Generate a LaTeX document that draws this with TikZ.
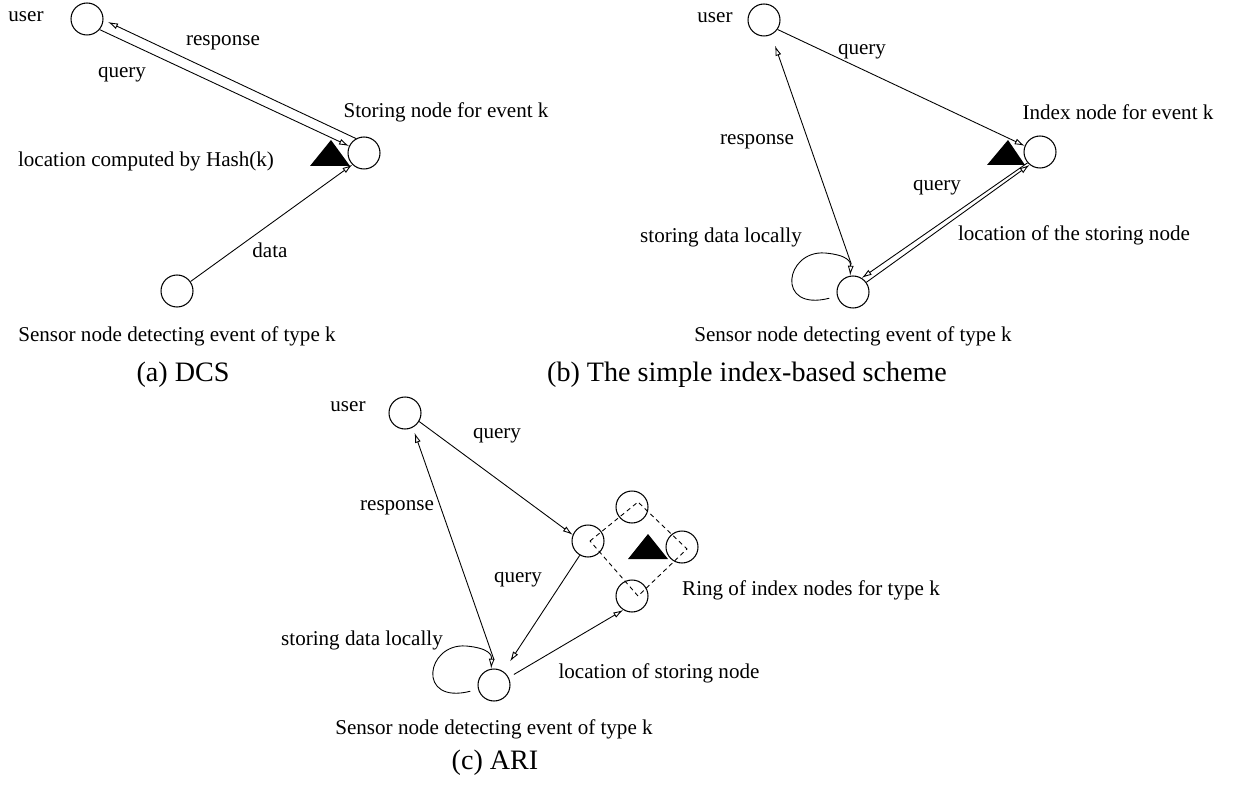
\documentclass[tikz,border=0pt]{standalone}
\usepackage{fontspec}
\setmainfont{Liberation Serif}
\usetikzlibrary{arrows.meta}

\begin{document}
\begin{tikzpicture}[
  x=0.02cm, y=-0.02cm,
  font=\fontsize{12}{14}\selectfont,
  nd/.style={circle, draw, line width=0.6pt, minimum size=0.64cm, inner sep=0pt},
  arr/.style={-{Latex[open,length=2mm,width=1.2mm]}, line width=0.5pt},
  lbl/.style={inner sep=0pt},
  capt/.style={inner sep=0pt, font=\fontsize{16}{19}\selectfont},
  ringline/.style={dash pattern=on 2.5pt off 2pt, line width=0.5pt}
]
  \useasboundingbox (0,0) rectangle (1233,790);

  % (a) DCS
  \node[nd] (userA) at (87,19) {};
  \node[nd] (storeA) at (364,153) {};
  \node[nd] (sensorA) at (177,291) {};
  \fill (310,166) -- (331,140) -- (350,166) -- cycle;
  \draw[arr] (userA.-40) -- (storeA.155);
  \draw[arr, shorten >=1mm] (storeA.119) -- (userA.-3);
  \draw[arr] (sensorA.35) -- (storeA.225);
  \node[lbl] (userAl) at (26,17) {user};
  \node[lbl] (respA) at (223,43) {response};
  \node[lbl] (queryA) at (122,75) {query};
  \node[lbl] (storeAl) at (446,112) {Storing node for event k};
  \node[lbl] (hashA) at (146,161) {location computed by Hash(k)};
  \node[lbl] (dataA) at (270,250) {data};
  \node[lbl] (sensorAl) at (177,336) {Sensor node detecting event of type k};
  \node[capt] (capA) at (183,375) {(a) DCS};

  % (b) simple index-based scheme
  \node[nd] (userB) at (764,20) {};
  \node[nd] (indexB) at (1040,152) {};
  \node[nd] (sensorB) at (853,292) {};
  \fill (987,165) -- (1008,140) -- (1025,165) -- cycle;
  \draw[arr] (userB.-35) -- (indexB.158);
  \draw[arr, shorten <=2.4mm, shorten >=2.3mm] (sensorB.82) -- (userB.-64);
  \draw[arr] (indexB.221) -- (sensorB.58);
  \draw[arr] (sensorB.36) -- (indexB.231);
  \draw[arr, shorten <=1.6mm] (sensorB.195) .. controls (775,312) and (785,250) .. (825,253)
    .. controls (848,255) and (851,262) .. (sensorB.100);
  \node[lbl] (userBl) at (715,18) {user};
  \node[lbl] (queryB1) at (862,52) {query};
  \node[lbl] (indexBl) at (1118,112) {Index node for event k};
  \node[lbl] (respB) at (757,142) {response};
  \node[lbl] (queryB2) at (937,188) {query};
  \node[lbl] (locB) at (1074,235) {location of the storing node};
  \node[lbl] (localB) at (721,237) {storing data locally};
  \node[lbl] (sensorBl) at (853,336) {Sensor node detecting event of type k};
  \node[capt] (capB) at (747,375) {(b) The simple index-based scheme};

  % (c) ARI
  \node[nd] (userC) at (405,413) {};
  \node[nd] (ringL) at (588,541) {};
  \node[nd] (ringT) at (632,507) {};
  \node[nd] (ringR) at (682,547) {};
  \node[nd] (ringB) at (632,596) {};
  \node[nd] (sensorC) at (494,685) {};
  \draw[ringline] ([shift={(2,0)}]ringL.center) -- ([shift={(6,-5)}]ringT.center)
    -- ([shift={(5,2)}]ringR.center) -- ([shift={(6,0)}]ringB.center) -- cycle;
  \fill (628,559) -- (648,534) -- (668,559) -- cycle;
  \draw[arr] (userC.-31) -- (ringL.158);
  \draw[arr, shorten <=2mm, shorten >=1.1mm] (sensorC.79) -- (userC.-62);
  \draw[arr, shorten >=2.4mm] (ringL.240) -- (sensorC.55);
  \draw[arr, shorten <=1.2mm] (sensorC.27) -- (ringB.238);
  \draw[arr, shorten <=1.6mm] (sensorC.195) .. controls (416,705) and (426,643) .. (466,646)
    .. controls (489,648) and (492,655) .. (sensorC.100);
  \node[lbl] (userCl) at (348,407) {user};
  \node[lbl] (queryC1) at (497,436) {query};
  \node[lbl] (respC) at (397,508) {response};
  \node[lbl] (queryC2) at (518,580) {query};
  \node[lbl] (localC) at (362,640) {storing data locally};
  \node[lbl] (locC) at (659,673) {location of storing node};
  \node[lbl] (ringCl) at (811,590) {Ring of index nodes for type k};
  \node[lbl] (sensorCl) at (494,729) {Sensor node detecting event of type k};
  \node[capt] (capC) at (495,763) {(c) ARI};
\end{tikzpicture}
\end{document}
